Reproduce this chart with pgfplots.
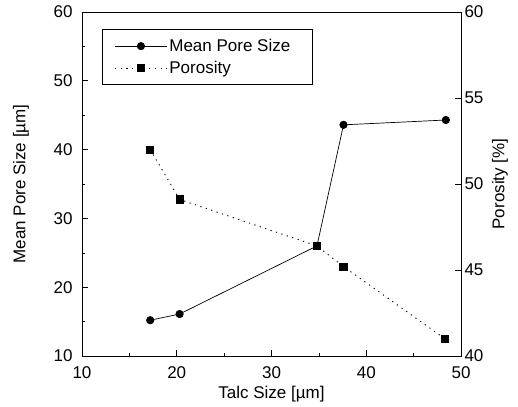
\documentclass[border=0pt]{standalone}
\usepackage{fontspec}
\setmainfont{Liberation Sans}
\usepackage{pgfplots}
\pgfplotsset{compat=1.18}

\begin{document}
\begin{tikzpicture}
\pgfplotsset{
  every axis/.append style={
    scale only axis, width=379pt, height=344pt,
    xmin=10, xmax=50,
    font=\fontsize{17}{20}\selectfont,
    /pgf/number format/assume math mode=true,
    tick align=inside, major tick length=6pt, minor tick length=3pt,
    tick style={black, line width=0.6pt},
    axis line style={line width=0.8pt},
  },
}
\begin{axis}[
    at={(0,0)}, anchor=south west,
    ymin=10, ymax=60,
    xtick={10,20,...,50}, ytick={10,20,...,60},
    minor x tick num=1, minor y tick num=1,
    xtick pos=left, ytick pos=left,
    xticklabel style={yshift=-7pt},
    yticklabel style={xshift=-6pt},
    xlabel={Talc Size [µm]},
    ylabel={Mean Pore Size [µm]},
    xlabel style={at={(axis description cs:0.5,-0.111)}, anchor=center},
    ylabel style={at={(axis description cs:-0.161,0.5)}, anchor=center, rotate=0},
    legend style={at={(axis description cs:0.053,0.951)}, anchor=north west,
      draw=black, line width=0.8pt, inner xsep=12pt, inner ysep=8pt,
      row sep=4pt, font=\fontsize{17}{20}\selectfont},
    legend cell align=left,
    legend image code/.code={
      \draw[#1, mark repeat=2, mark phase=2]
        plot coordinates {(0pt,0pt) (26pt,0pt) (52pt,0pt)};},
]
\addplot[black, line width=0.7pt, mark=*, mark size=3.7pt,
  mark options={solid}]
  coordinates {(17.2,15.2) (20.3,16.1) (34.8,26.0) (37.6,43.6) (48.4,44.3)};
\addlegendentry{Mean Pore Size\hspace*{8pt}}
\addlegendimage{black, line width=0.9pt, dash pattern=on 1.2pt off 4.5pt,
  mark=square*, mark size=3.6pt, mark options={solid}}
\addlegendentry{Porosity}
\end{axis}
\begin{axis}[
    at={(0,0)}, anchor=south west,
    ymin=40, ymax=60,
    ytick={40,45,...,60},
    hide x axis,
    axis y line*=right,
    ytick pos=right,
    ylabel={Porosity [\%]},
    ylabel style={at={(axis description cs:1.103,0.5)}, anchor=center, rotate=0},
]
\addplot[black, line width=0.9pt, dash pattern=on 1.2pt off 4.5pt,
  mark=square*, mark size=3.6pt, mark options={solid}]
  coordinates {(17.2,52.0) (20.3,49.1) (34.8,46.4) (37.6,45.2) (48.3,41.0)};
\end{axis}
\pgfresetboundingbox
\useasboundingbox (-82pt,-50pt) rectangle (436pt,356pt);
\end{tikzpicture}
\end{document}
